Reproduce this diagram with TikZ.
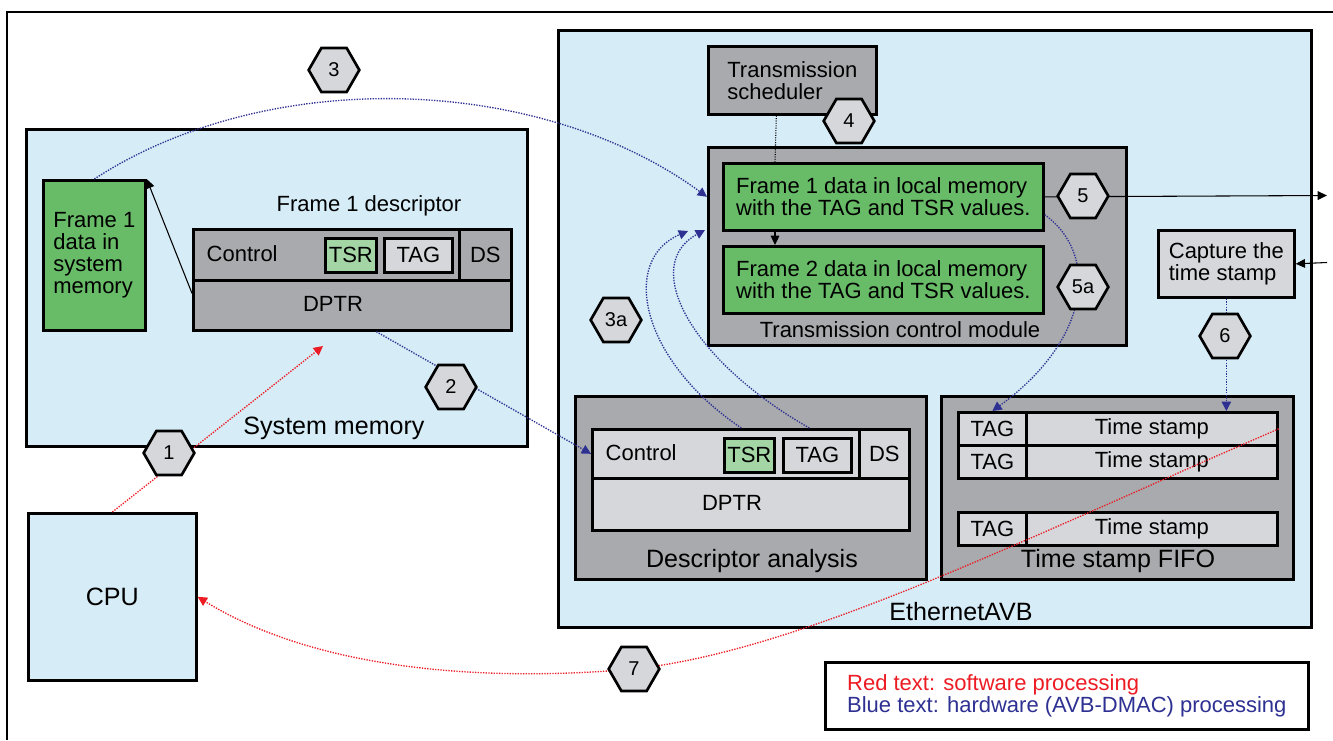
\documentclass[tikz,border=0pt]{standalone}
\usepackage{fontspec}
\setmainfont{Liberation Sans}
\usetikzlibrary{shapes.geometric,arrows.meta}
\definecolor{boxblue}{HTML}{D6ECF7}
\definecolor{boxgray}{HTML}{A8AAAD}
\definecolor{framegreen}{HTML}{68BC68}
\definecolor{tsrgreen}{HTML}{A3D5A5}
\definecolor{cellgray}{HTML}{D5D7DB}
\definecolor{hwblue}{HTML}{2E3192}
\definecolor{swred}{HTML}{ED1C24}
\newcommand{\bigtext}{\fontsize{18.8}{20}\selectfont}

\begin{document}
\begin{tikzpicture}[x=0.75pt, y=-0.75pt,
  every node/.style={font=\fontsize{16.5}{16.5}\selectfont},
  box/.style={draw, line width=2pt, anchor=north west, inner sep=0pt},
  hexa/.style={regular polygon, regular polygon sides=6, draw, line width=2pt,
    fill=cellgray, minimum size=38pt, inner sep=0pt, font=\fontsize{15}{15}\selectfont},
  hw/.style={hwblue, line width=1pt, densely dotted, -{Triangle[length=7pt,width=7pt]}},
  sw/.style={swred, line width=1pt, densely dotted, -{Triangle[length=7pt,width=7pt]}},
  tip/.style={line width=0.8pt, -{Triangle[length=7pt,width=6.5pt]}}]
\useasboundingbox (0,0) rectangle (1333,740);
\draw[line width=1.5pt] (7,740) -- (7,12) -- (1333,12);

% system memory
\node[box, fill=boxblue, minimum width=375.75pt, minimum height=237.75pt] (sysmem) at (25,128) {};
\node[font=\bigtext] (sysmemlbl) at (334,428) {System memory};
\node[box, fill=framegreen, minimum width=76.5pt, minimum height=112.5pt, align=left] (f1sys) at (42,179)
{Frame 1\\data in\\system\\memory};
\node (desclbl) at (369,206) {Frame 1 descriptor};
\node[box, fill=boxgray, minimum width=199.5pt, minimum height=38.25pt] (ctrl) at (192,228) {};
\node[box, fill=boxgray, minimum width=39pt, minimum height=38.25pt] (ds) at (458,228) {DS};
\node[box, fill=boxgray, minimum width=238.5pt, minimum height=37.5pt] (dptr) at (192,279) {};
\node[anchor=west] (ctrllbl) at (202,253.5) {Control};
\node (dptrlbl) at (333,304) {DPTR};
\node[box, fill=tsrgreen, minimum width=38.25pt, minimum height=25.5pt] (tsr) at (324,237) {TSR};
\node[box, fill=cellgray, minimum width=51pt, minimum height=25.5pt] (tag) at (383,237) {TAG};

% EthernetAVB
\node[box, fill=boxblue, minimum width=564.75pt, minimum height=447.75pt] (avb) at (557,29) {};
\node[font=\bigtext] (avblbl) at (961,612) {EthernetAVB};
\node[box, fill=boxgray, minimum width=126pt, minimum height=51pt, align=left] (sched) at (707,45)
{Transmission\\scheduler};
\node[box, fill=boxgray, minimum width=313.5pt, minimum height=148.5pt] (tcm) at (707,146) {};
\node (tcmlbl) at (900,330) {Transmission control module};
\node[box, fill=framegreen, minimum width=240pt, minimum height=50.25pt, align=left] (f1loc) at (722,162)
{Frame 1 data in local memory\\with the TAG and TSR values.};
\node[box, fill=framegreen, minimum width=240pt, minimum height=50.25pt, align=left] (f2loc) at (722,245)
{Frame 2 data in local memory\\with the TAG and TSR values.};
\node[box, fill=cellgray, minimum width=102pt, minimum height=50.25pt, align=left] (capt) at (1157,229)
{Capture the\\time stamp};

\node[box, fill=boxgray, minimum width=263.25pt, minimum height=137.25pt] (dana) at (574,395) {};
\node[font=\bigtext] (danalbl) at (752,561) {Descriptor analysis};
\node[box, fill=cellgray, minimum width=200.25pt, minimum height=36.75pt] (ctrl2) at (591,428) {};
\node[box, fill=cellgray, minimum width=37.5pt, minimum height=36.75pt] (ds2) at (858,428) {DS};
\node[box, fill=cellgray, minimum width=237.75pt, minimum height=39pt] (dptr2) at (591,477) {};
\node[anchor=west] (ctrl2lbl) at (601,452.5) {Control};
\node (dptr2lbl) at (732,503) {DPTR};
\node[box, fill=tsrgreen, minimum width=37.5pt, minimum height=25.5pt] (tsr2) at (723,437) {TSR};
\node[box, fill=cellgray, minimum width=51pt, minimum height=25.5pt] (tag2) at (782,437) {TAG};

\node[box, fill=boxgray, minimum width=264pt, minimum height=137.25pt] (fifo) at (940,395) {};
\node[font=\bigtext] (fifolbl) at (1118,561) {Time stamp FIFO};
\foreach \i/\y in {1/411,2/444,3/511} {
  \node[box, fill=cellgray, minimum width=51pt, minimum height=24.75pt] (ftag\i) at (957,\y) {TAG};
  \node[box, fill=cellgray, minimum width=188.25pt, minimum height=24.75pt] (stamp\i) at (1025,\y) {Time stamp};
}

\node[box, fill=boxblue, minimum width=126pt, minimum height=125.25pt, font=\bigtext] (cpu) at (27,512) {CPU};
\node[box, fill=white, minimum width=362.25pt, minimum height=50.25pt, align=left] (legend) at (824,661)
{\textcolor{swred}{Red text: software processing}\\\textcolor{hwblue}{Blue text: hardware (AVB-DMAC) processing}};

% connectors
\coordinate (h1) at (169,453);
\coordinate (h2) at (451,387);
\coordinate (h3) at (334,70);
\coordinate (h3a) at (616,320);
\coordinate (h4) at (849,121);
\coordinate (h5) at (1083,196);
\coordinate (h5a) at (1083,287);
\coordinate (h6) at (1225,336);
\coordinate (h7) at (634,669);
\coordinate (e1) at (323,346);
\coordinate (e3aA) at (688,231);
\coordinate (e3aB) at (705,230);
\coordinate (out5) at (1327,195.5);
\coordinate (in6) at (1327,262.5);

\draw[tip] ([yshift=9pt]dptr.west) -- (f1sys.north east);
\draw[sw] (cpu.north) -- (e1);
\draw[hw] ([xshift=18pt]dptr.south) -- (ctrl2.west);
\draw[hw] (f1sys.north) .. controls (270,65) and (540,75) .. (tcm.west |- f1loc.west);
\draw[hw] ([xshift=-6pt,yshift=6.75pt]tsr2.north) .. controls (640,360) and (620,260) .. (e3aA);
\draw[hw] ([xshift=-6pt,yshift=6.75pt]tag2.north) .. controls (690,360) and (640,265) .. (e3aB);
\draw[line width=0.8pt, densely dotted] ([xshift=-12pt]sched.south) -- ([xshift=39.75pt]f1loc.north west);
\draw[tip] ([xshift=39.75pt]f1loc.south west) -- ([xshift=39.75pt]f2loc.north west);
\draw[tip] (f1loc.east) -- (out5);
\draw[tip] (in6) -- (capt.east);
\draw[hw] ([yshift=12.75pt]f1loc.south east) .. controls (1100,255) and (1090,340) .. (ftag1.north);
\draw[hw] (capt.south) -- (capt.south |- stamp1.north);
\draw[sw] (stamp1.east) .. controls (1000,550) and (800,650) .. (h7) .. controls (450,685) and (300,660) .. (cpu.east);

\foreach \n in {1,2,3,3a,4,5,5a,6,7}
  \node[hexa] (n\n) at (h\n) {\n};
\end{tikzpicture}
\end{document}
